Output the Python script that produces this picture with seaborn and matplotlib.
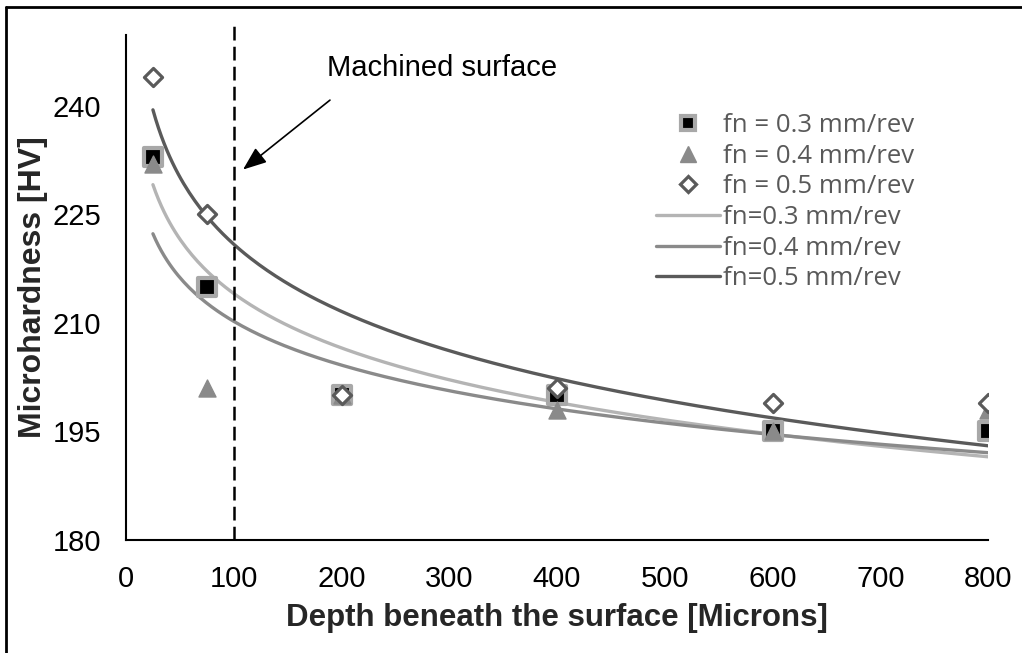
import numpy as np
import pandas as pd
import matplotlib
matplotlib.use("Agg")
import matplotlib.pyplot as plt
import seaborn as sns
from matplotlib.lines import Line2D

depth = [25, 75, 200, 400, 600, 800]
hv_03 = [233, 215, 200, 200, 195, 195]
hv_04 = [232, 201, 200, 198, 195, 198]
hv_05 = [244, 225, 200, 201, 199, 199]
point_labels = ["fn = 0.3 mm/rev", "fn = 0.4 mm/rev", "fn = 0.5 mm/rev"]
fit_labels = ["fn=0.3 mm/rev", "fn=0.4 mm/rev", "fn=0.5 mm/rev"]
x_ticks = [0, 100, 200, 300, 400, 500, 600, 700, 800]
y_ticks = [180, 195, 210, 225, 240]

sns.set_style("white")
plt.rcParams['font.family'] = ['Liberation Sans', 'DejaVu Sans']

fig = plt.figure(figsize=(10.22, 6.53), dpi=100)
ax = fig.add_axes([126/1022, 1-540/653, (988-126)/1022, (540-35)/653])

series = [hv_03, hv_04, hv_05]
line_colors = ["#b4b4b4", "#8a8a8a", "#5a5a5a"]

# log fits (Excel-style logarithmic trendlines)
xs = np.linspace(depth[0], depth[-1], 300)
for vals, col, lab in zip(series, line_colors, fit_labels):
    a, b = np.polyfit(np.log(depth), vals, 1)
    fdf = pd.DataFrame({"x": xs, "y": a*np.log(xs) + b})
    sns.lineplot(data=fdf, x="x", y="y", ax=ax, color=col, lw=2.4, zorder=2)

df3 = pd.DataFrame({"x": depth, "y": hv_03})
df4 = pd.DataFrame({"x": depth, "y": hv_04})
df5 = pd.DataFrame({"x": depth, "y": hv_05})
sns.scatterplot(data=df3, x="x", y="y", ax=ax, marker="s", s=150, color="black",
                edgecolor="#a8a8a8", linewidth=3, zorder=4)
sns.scatterplot(data=df4, x="x", y="y", ax=ax, marker="^", s=150, color="#8a8a8a",
                edgecolor="#8a8a8a", linewidth=1, zorder=5)
sns.scatterplot(data=df5, x="x", y="y", ax=ax, marker="D", s=85, color="white",
                edgecolor="#5a5a5a", linewidth=2.3, zorder=6)

ax.axvline(100, ymin=0, ymax=1.02, color="black", lw=1.8, ls=(0, (5.5, 2.5)), clip_on=False, zorder=3)

ax.text(187, 245.3, "Machined surface", fontsize=21, va="center", ha="left", color="black")
ax.annotate("", xy=(108.6, 231.2), xytext=(189.3, 240.8),
            arrowprops=dict(arrowstyle="-|>,head_length=0.9,head_width=0.35", color="black", lw=1.2,
                            mutation_scale=16, shrinkA=0, shrinkB=0))

ax.set_xlim(0, 800)
ax.set_ylim(180, 249.8)
ax.set_xticks(x_ticks)
ax.set_yticks(y_ticks)
ax.tick_params(axis="both", direction="out", length=7, width=1.5, labelsize=21, colors="black")
ax.tick_params(axis="x", pad=11)
ax.tick_params(axis="y", pad=11)
for s in ["top", "right"]:
    ax.spines[s].set_visible(False)
for s in ["left", "bottom"]:
    ax.spines[s].set_color("black")
    ax.spines[s].set_linewidth(1.5)

ax.set_xlabel("Depth beneath the surface [Microns]", fontsize=22.5, fontweight="bold", labelpad=7)
ax.set_ylabel("Microhardness [HV]", fontsize=23, fontweight="bold", labelpad=3)

handles = [
    Line2D([], [], ls="none", marker="s", ms=10, mfc="black", mec="#a8a8a8", mew=3),
    Line2D([], [], ls="none", marker="^", ms=12, mfc="#8a8a8a", mec="#8a8a8a"),
    Line2D([], [], ls="none", marker="D", ms=8, mfc="white", mec="#5a5a5a", mew=2.3),
    Line2D([], [], color=line_colors[0], lw=2.4),
    Line2D([], [], color=line_colors[1], lw=2.4),
    Line2D([], [], color=line_colors[2], lw=2.4),
]
leg = fig.legend(handles, point_labels + fit_labels, loc="upper left",
                 bbox_to_anchor=(656/1022, 1-113/653), frameon=False,
                 handlelength=2.5, handletextpad=0.1, labelspacing=0.22,
                 borderpad=0, borderaxespad=0,
                 prop={"family": "Open Sans", "size": 18.5})
for t in leg.get_texts():
    t.set_color("#595959")

# outer border
fig.add_artist(Line2D([6/1022, 6/1022], [0, 1-7/653], color="black", lw=2, transform=fig.transFigure))
fig.add_artist(Line2D([6/1022, 1], [1-7/653, 1-7/653], color="black", lw=2, transform=fig.transFigure))

fig.savefig("out.png", dpi=100)
